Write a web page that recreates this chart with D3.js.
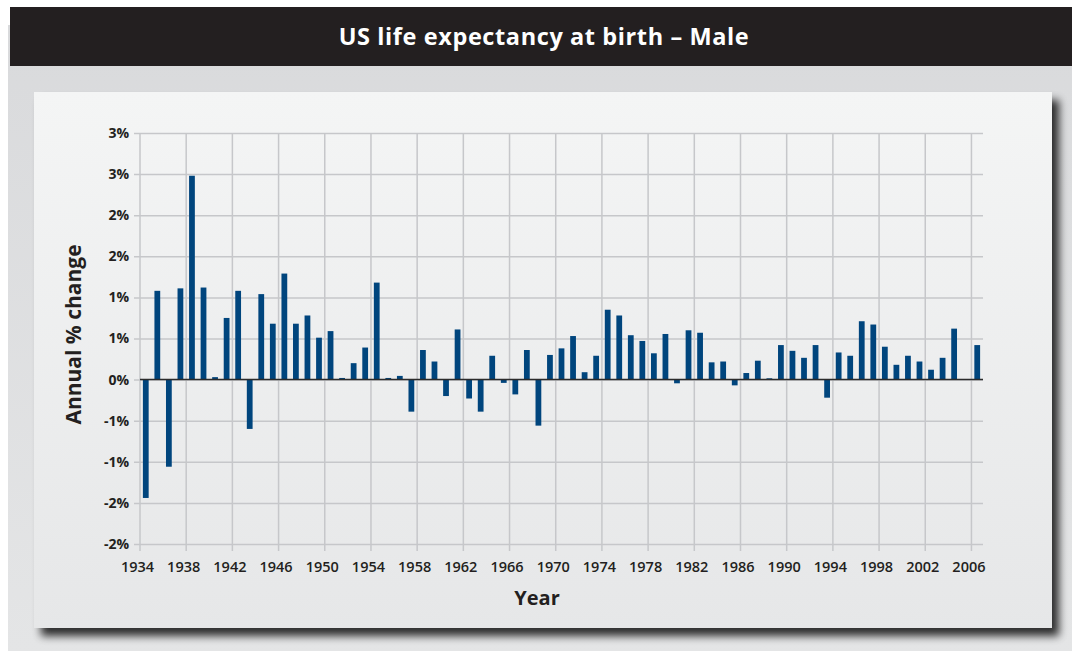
<!DOCTYPE html>
<html>
<head>
<meta charset="utf-8">
<script src="https://cdn.jsdelivr.net/npm/d3@7"></script>
<style>
  html, body { margin: 0; padding: 0; background: #ffffff; }
  svg { display: block; }
</style>
</head>
<body>
<div id="viz"></div>
<script>
const years = d3.range(1934, 2007);
const pctChange = [
  -1.44, 1.08, -1.06, 1.11, 2.48, 1.12, 0.03, 0.75, 1.08, -0.60,
  1.04, 0.68, 1.29, 0.68, 0.78, 0.51, 0.59, 0.02, 0.20, 0.39,
  1.18, 0.02, 0.045, -0.39, 0.36, 0.22, -0.20, 0.61, -0.23, -0.39,
  0.29, -0.04, -0.18, 0.36, -0.56, 0.30, 0.38, 0.53, 0.09, 0.29,
  0.85, 0.78, 0.54, 0.47, 0.32, 0.555, -0.045, 0.60, 0.57, 0.21,
  0.22, -0.07, 0.08, 0.23, 0.016, 0.42, 0.35, 0.265, 0.42, -0.22,
  0.33, 0.29, 0.71, 0.67, 0.40, 0.18, 0.29, 0.22, 0.12, 0.265,
  0.62, null, 0.42
];
const xTickYears = d3.range(1934, 2007, 4);
const yTickValues = [-2, -1.5, -1, -0.5, 0, 0.5, 1, 1.5, 2, 2.5, 3];
const yTickLabels = ["-2%", "-2%", "-1%", "-1%", "0%", "1%", "1%", "2%", "2%", "3%", "3%"];

const W = 1072, H = 651;
const textColor = "#231f20";
const barColor = "#00457d";
const gridColor = "#c6c7ca";
const font = "'Open Sans', Arial, sans-serif";

const svg = d3.select("#viz").append("svg").attr("width", W).attr("height", H);
const defs = svg.append("defs");

const bgGrad = defs.append("linearGradient").attr("id", "bgGrad").attr("x1", 0).attr("y1", 0).attr("x2", 0).attr("y2", 1);
bgGrad.append("stop").attr("offset", "0%").attr("stop-color", "#d9dadc");
bgGrad.append("stop").attr("offset", "100%").attr("stop-color", "#e4e5e6");

const panelGrad = defs.append("linearGradient").attr("id", "panelGrad").attr("x1", 0).attr("y1", 0).attr("x2", 0).attr("y2", 1);
panelGrad.append("stop").attr("offset", "0%").attr("stop-color", "#f4f5f5");
panelGrad.append("stop").attr("offset", "100%").attr("stop-color", "#e6e7e8");

const shadow = defs.append("filter").attr("id", "shadow")
  .attr("x", "-5%").attr("y", "-5%").attr("width", "115%").attr("height", "120%");
shadow.append("feGaussianBlur").attr("in", "SourceAlpha").attr("stdDeviation", 4).attr("result", "blur");
shadow.append("feOffset").attr("in", "blur").attr("dx", 7).attr("dy", 8).attr("result", "off");
shadow.append("feComponentTransfer").attr("in", "off").attr("result", "offA")
  .append("feFuncA").attr("type", "linear").attr("slope", 0.8);
const merge = shadow.append("feMerge");
merge.append("feMergeNode").attr("in", "offA");
merge.append("feMergeNode").attr("in", "SourceGraphic");

// outer gray area + title bar
svg.append("rect").attr("x", 8).attr("y", 25).attr("width", W - 8).attr("height", H - 25).attr("fill", "url(#bgGrad)");
svg.append("rect").attr("x", 10).attr("y", 7).attr("width", W - 10).attr("height", 59).attr("fill", textColor);
svg.append("text")
  .attr("x", 544).attr("y", 45)
  .attr("text-anchor", "middle")
  .attr("fill", "#ffffff")
  .style("font-family", font).style("font-weight", 700).style("font-size", "23.5px")
  .style("letter-spacing", "0.6px")
  .text("US life expectancy at birth \u2013 Male");

// panel
svg.append("rect").attr("x", 34).attr("y", 92).attr("width", 1018).attr("height", 536)
  .attr("fill", "url(#panelGrad)").attr("filter", "url(#shadow)");

const plot = { left: 140, right: 983, top: 133, bottom: 544 };

const x = d3.scaleBand().domain(years).range([plot.left, plot.right]).paddingInner(0.5).paddingOuter(0.25);
const tickPos = (yr) => x(yr) - x.step() * 0.25;
const y = d3.scaleLinear().domain([-2, 3]).range([plot.bottom, plot.top]);

const g = svg.append("g");

// horizontal grid with left ticks
g.append("g").attr("transform", `translate(${plot.left},0)`)
  .call(d3.axisLeft(y).tickValues(yTickValues).tickSize(-(plot.right - plot.left)).tickSizeOuter(0).tickPadding(11)
    .tickFormat((d, i) => yTickLabels[i]))
  .call((a) => a.select(".domain").remove())
  .call((a) => a.selectAll(".tick line").attr("stroke", gridColor).attr("stroke-width", 1.5).attr("x1", -6))
  .call((a) => a.selectAll(".tick text").attr("fill", textColor).style("font-family", font)
    .style("font-weight", 700).style("font-size", "14px"));

// vertical grid with bottom ticks
g.append("g").selectAll("line").data(xTickYears).join("line")
  .attr("x1", (d) => tickPos(d)).attr("x2", (d) => tickPos(d))
  .attr("y1", plot.top).attr("y2", plot.bottom + 7)
  .attr("stroke", gridColor).attr("stroke-width", 1.5);
g.append("g").selectAll("text").data(xTickYears).join("text")
  .attr("x", (d) => tickPos(d) - 2.5).attr("y", 572)
  .attr("text-anchor", "middle")
  .attr("fill", textColor)
  .style("font-family", font).style("font-weight", 600).style("font-size", "14.5px")
  .text((d) => d);

// bars
const data = years.map((yr, i) => ({ year: yr, value: pctChange[i] })).filter((d) => d.value != null);
g.append("g").selectAll("rect").data(data).join("rect")
  .attr("x", (d) => x(d.year))
  .attr("width", x.bandwidth())
  .attr("y", (d) => y(Math.max(0, d.value)))
  .attr("height", (d) => Math.abs(y(d.value) - y(0)))
  .attr("fill", barColor);

// zero line
g.append("line").attr("x1", plot.left).attr("x2", plot.right).attr("y1", y(0)).attr("y2", y(0))
  .attr("stroke", "#2b2b2b").attr("stroke-width", 1.5);

// axis titles
svg.append("text")
  .attr("transform", `translate(81,${(plot.top + plot.bottom) / 2 - 4}) rotate(-90)`)
  .attr("text-anchor", "middle")
  .attr("fill", textColor)
  .style("font-family", font).style("font-weight", 700).style("font-size", "21px")
  .text("Annual % change");
svg.append("text")
  .attr("x", 537).attr("y", 605)
  .attr("text-anchor", "middle")
  .attr("fill", textColor)
  .style("font-family", font).style("font-weight", 700).style("font-size", "20px")
  .text("Year");
</script>
</body>
</html>
